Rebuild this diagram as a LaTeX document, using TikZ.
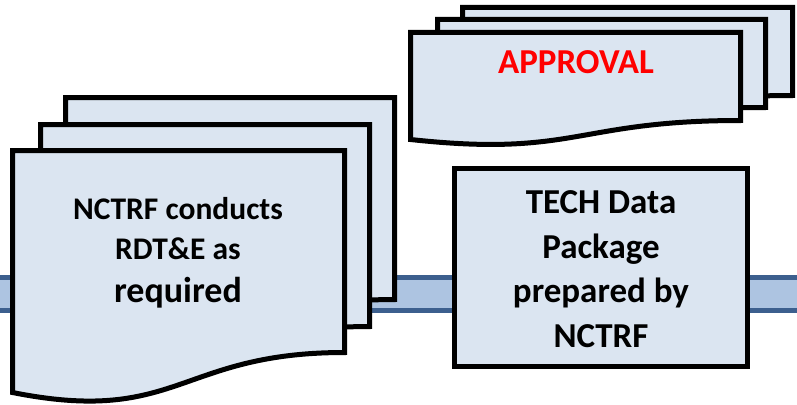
\documentclass[tikz,border=0pt]{standalone}
\usepackage{fontspec}
\setmainfont{Carlito}
\definecolor{docfill}{HTML}{DBE5F1}
\definecolor{bandfill}{HTML}{ADC4E1}
\definecolor{bandline}{HTML}{3C5F8E}
\newcommand{\mydoc}[6]{%
  \filldraw[docstyle] (#1,#2) -- (#1+#3,#2) -- (#1+#3,#2+#4)
    .. controls (#1+#3/2,#2+#4) and (#1+#3/2,#2+#5) .. (#1,#2+#6) -- cycle;}
\tikzset{
  docstyle/.style={draw=black, fill=docfill, line width=5pt, line join=miter},
  boxstyle/.style={draw=black, fill=docfill, line width=5pt, inner sep=0pt},
  txt/.style={font=\bfseries, align=center, text=black}
}
\begin{document}
\begin{tikzpicture}[x=1pt,y=-1pt]
\useasboundingbox (0,0) rectangle (797,404);
% band
\fill[bandfill] (0,278) rectangle (797,310);
\draw[bandline, line width=5pt] (0,277.5) -- (797,277.5);
\draw[bandline, line width=5pt] (0,310.5) -- (797,310.5);
% left document stack
\mydoc{65.5}{97.5}{329}{202}{275}{242}
\mydoc{40.5}{124.5}{329}{202}{275}{242}
\mydoc{12.5}{150.5}{332}{202}{275}{242}
\node[txt, font=\bfseries\fontsize{31.5}{40}\selectfont] (nctrf) at (178,253)
  {NCTRF conducts\\RDT\&E as\\[3pt]{\fontsize{36}{42}\selectfont required}};
% approval stack
\mydoc{462.5}{7.5}{330}{88}{125}{107}
\mydoc{437.5}{19.5}{328}{88}{125}{107}
\mydoc{410.5}{32.5}{330}{88}{125}{107}
\node[font=\bfseries\fontsize{35}{42}\selectfont, text={rgb,255:red,255;green,0;blue,0}, anchor=base] (approval) at (576,74) {APPROVAL};
% tech box
\node[boxstyle, minimum width=293pt, minimum height=197.5pt] (tech) at (601,267.25) {};
\node[txt, font=\bfseries\fontsize{35}{44.5}\selectfont] (techtxt) at (601,269) {TECH Data\\Package\\prepared by\\NCTRF};
\end{tikzpicture}
\end{document}
